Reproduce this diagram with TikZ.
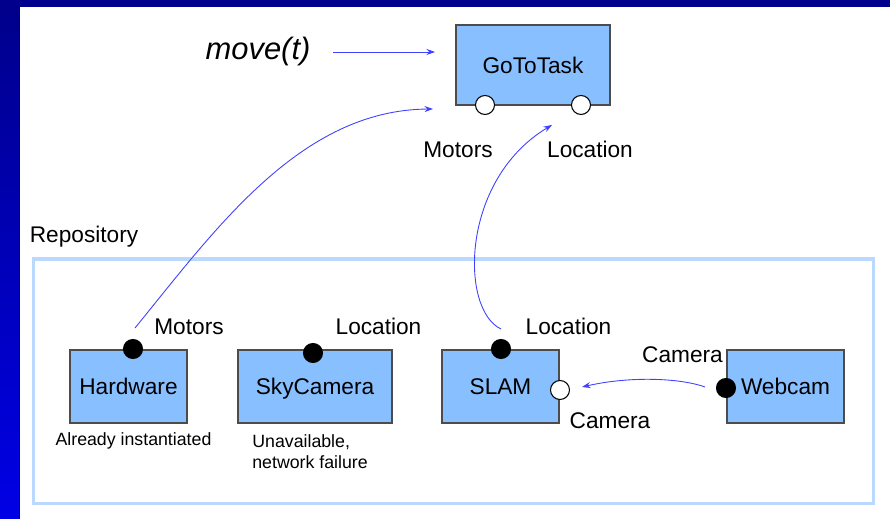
\documentclass[tikz,border=0pt]{standalone}
\usepackage{fontspec}
\setmainfont{Liberation Sans}
\usetikzlibrary{arrows.meta,positioning}
\tikzset {>={Stealth[length=1.7mm,width=1.2mm]}}

\definecolor{navy}{HTML}{00008C}
\definecolor{brightblue}{HTML}{0000E6}
\definecolor{boxblue}{HTML}{88BFFF}
\definecolor{repoblue}{HTML}{BBD9FF}
\definecolor{wireblue}{HTML}{4040FF}

\newcommand\lblfont{\fontsize{12.9}{15}\selectfont}
\newcommand\notefont{\fontsize{10.1}{11.9}\selectfont}
\newcommand\movefont{\fontsize{17.6}{20}\selectfont\itshape}

\begin{document}
\begin{tikzpicture}[x=0.02cm,y=-0.02cm,
  comp/.style={draw=black!70,line width=0.6pt,fill=boxblue,font=\lblfont,
    minimum width=2.34cm,minimum height=1.46cm,inner sep=0pt,
    text height=9.2pt,text depth=0pt},
  socket/.style={circle,draw=black,line width=0.6pt,fill=white,
    minimum size=0.38cm,inner sep=0pt},
  plug/.style={socket,fill=black},
  lbl/.style={font=\lblfont,inner sep=0pt,anchor=base},
  note/.style={font=\notefont,inner sep=0pt},
  wire/.style={->,draw=wireblue,line width=0.5pt}]
\useasboundingbox (0,0) rectangle (890,519);
% slide frame
\fill[white] (0,0) rectangle (890,519);
\fill[navy] (0,0) rectangle (890,7);
\shade[top color=navy,bottom color=brightblue] (0,7) rectangle (19,519);
\draw[navy!80!black,line width=0.5pt] (19,7) -- (19,519);

% the task and its required services
\node[lbl,font=\movefont] (move) at (258,60) {move(t)};
\node[comp,minimum width=3.08cm,minimum height=1.6cm] (gototask) at (533,65) {GoToTask};
\node[socket] (gt-mot) at (485,105) {};
\node[socket] (gt-loc) at (581,105) {};
\node[lbl] (gt-motl) at (458,158) {Motors};
\node[lbl] (gt-locl) at (590,158) {Location};

% repository
\node[lbl] (repol) at (84,243) {Repository};
\draw[repoblue,line width=2pt] (33.5,259) rectangle (873.5,503.5);

\node[comp] (hw) at (128.5,386.5) {Hardware};
\node[comp,minimum width=3.08cm] (sky) at (315,386.5) {SkyCamera};
\node[comp] (slam) at (500.5,386.5) {SLAM};
\node[comp] (webcam) at (785.5,386.5) {Webcam};

\node[plug] (hw-mot) at (133,349) {};
\node[plug] (sky-loc) at (313,353) {};
\node[plug] (slam-loc) at (501,349) {};
\node[socket] (slam-cam) at (560,390) {};
\node[plug] (web-cam) at (726,388) {};

\node[lbl] (hw-motl) at (189,335) {Motors};
\node[lbl] (sky-locl) at (378.5,335) {Location};
\node[lbl] (slam-locl) at (568.5,335) {Location};
\node[lbl] (slam-caml) at (610,429) {Camera};
\node[lbl] (web-caml) at (682.5,363) {Camera};

\node[note,anchor=base] (hw-note) at (133.5,446) {Already instantiated};
\node[note,anchor=north west,align=left] (sky-note) at (252,434)
  {Unavailable,\\network failure};

% bindings
\coordinate (mv-s) at (333,52);
\coordinate (mv-e) at (435,52);
\coordinate (hw-s) at (135,328);
\coordinate (mot-e) at (433,109);
\coordinate (slam-s) at (501,329);
\coordinate (loc-e) at (552,125);
\coordinate (web-s) at (705,387);
\coordinate (cam-e) at (582,387);
\draw[wire] (mv-s) -- (mv-e);
\draw[wire] (hw-s) .. controls (215,230) and (300,110) .. (mot-e);
\draw[wire] (slam-s) .. controls (460,310) and (460,180) .. (loc-e);
\draw[wire] (web-s) .. controls (680,378) and (630,376) .. (cam-e);
\end{tikzpicture}
\end{document}
